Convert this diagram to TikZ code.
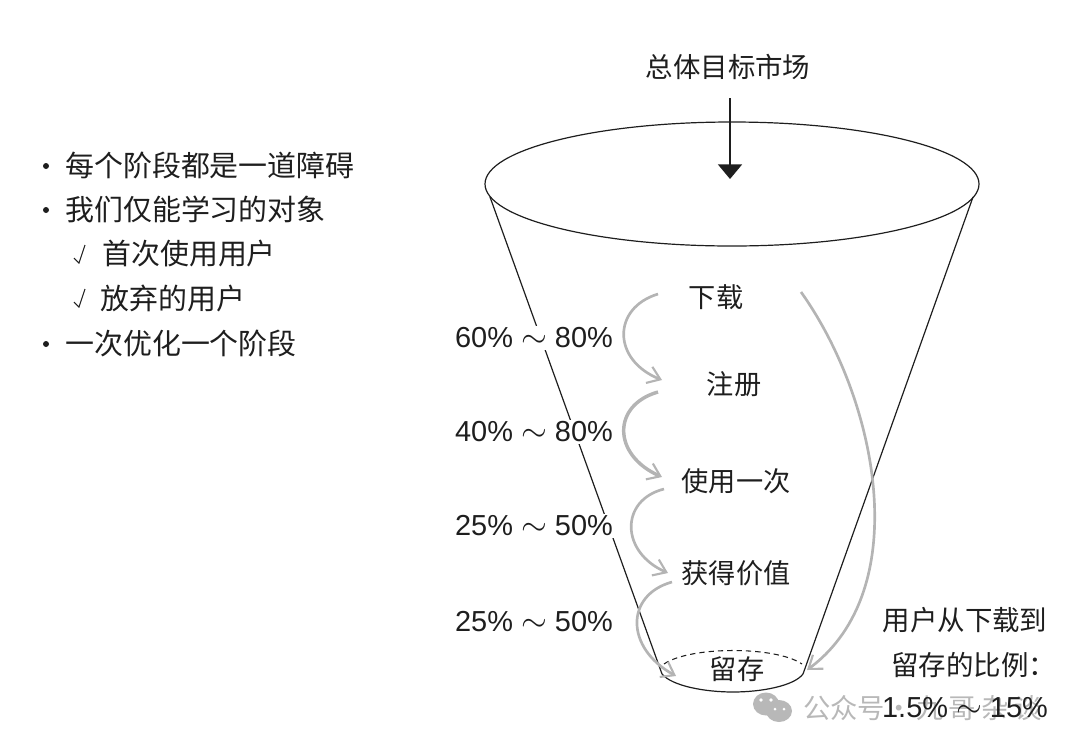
\documentclass[tikz,border=0pt]{standalone}
\usepackage{fontspec}
\setmainfont{Liberation Sans}
\newfontfamily\cjk{Noto Sans CJK SC}
\usetikzlibrary{arrows.meta}
\definecolor{ink}{HTML}{1E1E1E}
\definecolor{flow}{HTML}{B4B4B4}
\definecolor{wm}{HTML}{B8B8B8}
\newcommand{\tld}{{\fontsize{24}{24}\selectfont$\sim$}}
\tikzset{
  lab/.style={font=\fontsize{20.4}{24}\selectfont\cjk,text=ink,inner sep=0pt},
  big/.style={font=\fontsize{20.6}{24}\selectfont\cjk,text=ink,inner sep=0pt},
  pct/.style={font=\fontsize{21.7}{24}\selectfont,text=ink,fill=white,inner sep=1pt},
  bul/.style={font=\fontsize{21.7}{24}\selectfont\cjk,text=ink,inner sep=0pt,anchor=west},
  edge/.style={draw=ink,line width=0.9pt},
  flowarr/.style={draw=flow,line width=2pt,-{Straight Barb[length=9pt,width=13pt,line width=1.6pt]}},
  wmtext/.style={font=\fontsize{20.5}{24}\selectfont\cjk,text=wm,anchor=west,inner sep=0pt},
}
\begin{document}
\begin{tikzpicture}[x=0.75pt,y=-0.75pt]
\useasboundingbox (0,0) rectangle (1080,754);
% watermark (beneath the note)
\node[wmtext] (wmk) at (803,708) {公众号·};
\node[wmtext] (wmk2) at (916,708) {九\kern4pt 哥\kern4pt 杂\kern4pt 谈};
\fill[wm] (766,704) circle [x radius=13,y radius=11.5];
\fill[wm] (779,711) circle [x radius=13,y radius=11];
\fill[white] (761,700) circle (1.8) (771,700) circle (1.8) (775,709) circle (1.5) (784,709) circle (1.5);
% funnel
\draw[edge] (732,184) ellipse [x radius=247,y radius=62];
\coordinate (tl) at (490,197);
\coordinate (tr) at (973,197);
\coordinate (bl) at (662,674);
\coordinate (br) at (803,674);
\draw[edge] (tl) -- (bl);
\draw[edge] (tr) -- (br);
\draw[edge] (bl) .. controls (672,686) and (705,692) .. (733,692) .. controls (761,692) and (794,686) .. (br);
\coordinate (dl) at (664,664);
\coordinate (dr) at (802,664);
\draw[draw=ink,line width=0.8pt,dash pattern=on 4pt off 3pt] (dl) .. controls (690,646) and (776,646) .. (dr);
% top label and arrow
\node[big] (top) at (728,67) {总体目标市场};
\coordinate (astart) at (730,98);
\coordinate (aim) at (730,179);
\draw[draw=ink,line width=1.5pt,-{Triangle[length=11pt,width=18pt]}] (astart) -- (aim);
% percentages
\node[pct] (p1) at (534,338) {60\% \tld{} 80\%};
\node[pct] (p2) at (534,432) {40\% \tld{} 80\%};
\node[pct] (p3) at (534,526) {25\% \tld{} 50\%};
\node[pct] (p4) at (534,622) {25\% \tld{} 50\%};
% stages
\node[lab] (s1) at (716,297) {下载};
\node[lab] (s2) at (734,384) {注册};
\node[lab] (s3) at (736,481) {使用一次};
\node[lab] (s4) at (736,573) {获得价值};
\node[lab] (s5) at (737,669) {留存};
% flows
\coordinate (f1a) at (658,294);
\coordinate (f1b) at (662,380);
\draw[flowarr] (f1a) .. controls (612,308) and (612,360) .. (f1b);
\coordinate (f2a) at (658,392);
\coordinate (f2b) at (662,477);
\draw[flowarr,line width=2.6pt] (f2a) .. controls (612,405) and (612,455) .. (f2b);
\coordinate (f3a) at (664,489);
\coordinate (f3b) at (668,573);
\draw[flowarr] (f3a) .. controls (620,500) and (620,552) .. (f3b);
\coordinate (f4a) at (672,582);
\coordinate (f4b) at (676,676);
\draw[flowarr] (f4a) .. controls (625,595) and (625,648) .. (f4b);
\coordinate (f5a) at (801,292);
\coordinate (f5b) at (807,670);
\draw[flowarr] (f5a) .. controls (878,400) and (915,590) .. (f5b);
% bullets
\node[bul] (b1) at (65,165) {每个阶段都是一道障碍};
\node[bul] (b2) at (65,209) {我们仅能学习的对象};
\node[bul] (b3) at (102,254) {首次使用用户};
\node[bul] (b4) at (100,298) {放弃的用户};
\node[bul] (b5) at (65,343) {一次优化一个阶段};
\fill[ink] (46,166) circle (3);
\fill[ink] (46,210) circle (3);
\fill[ink] (46,344) circle (3);
\draw[ink,line width=0.8pt] (74,258) -- (79,263) -- (85,245);
\draw[ink,line width=0.8pt] (74,302) -- (79,307) -- (85,289);
% right note
\node[big] (n1) at (965,620) {用户从下载到};
\node[big,anchor=west] (n2) at (891,665) {留存的比例：};
\node[font=\fontsize{21.7}{24}\selectfont,text=ink,inner sep=0pt] (n3) at (965,708) {1.5\% \tld{} 15\%};
\end{tikzpicture}
\end{document}
